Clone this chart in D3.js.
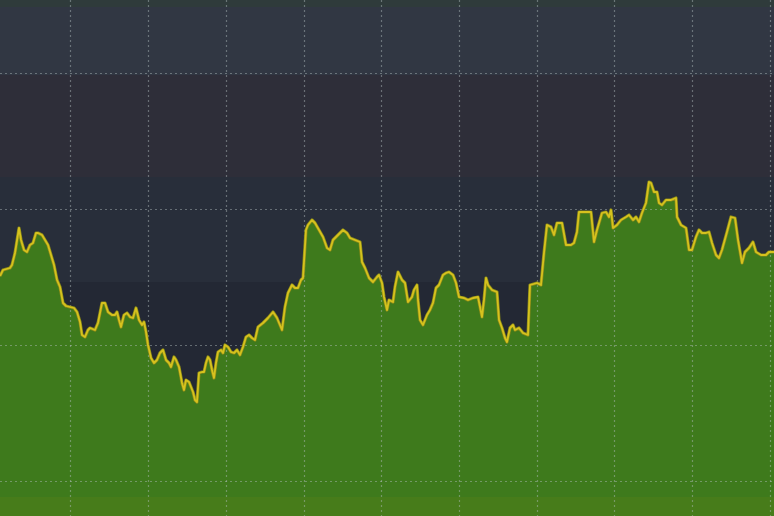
<!DOCTYPE html>
<html>
<head>
<meta charset="utf-8">
<script src="https://cdn.jsdelivr.net/npm/d3@7"></script>
<style>
  html, body { margin: 0; padding: 0; background: #2b2f3a; }
  svg { display: block; }
</style>
</head>
<body>
<svg id="chart" width="774" height="516"></svg>
<script>
// ---- data ----
const days = [
  0,3,10,12,15,19,21,24,27,30,
  33,36,38,42,45,48,51,54,57,60,
  63,66,70,74,77,80,82,85,88,90,
  95,98,102,105,108,112,115,117,119,121,
  124,127,130,133,136,139,142,144,146,148,
  151,154,157,160,163,166,169,171,174,176,
  179,182,184,186,189,191,193,195,197,199,
  202,204,206,208,210,212,214,216,218,221,
  223,225,228,231,234,237,240,243,246,249,
  252,255,258,263,268,273,277,282,285,288,
  292,295,298,301,303,306,308,312,315,319,
  323,327,330,333,338,343,347,350,355,360,
  362,365,369,373,377,379,382,384,387,389,
  393,395,398,402,405,408,412,414,417,418,
  420,423,427,430,433,436,439,443,446,449,
  453,456,459,464,468,473,478,482,484,486,
  488,492,497,499,502,505,507,510,513,515,
  519,523,528,530,537,541,544,547,551,554,
  557,562,566,571,574,577,579,591,594,597,
  602,606,609,611,613,617,621,626,629,633,
  636,639,642,646,649,651,654,657,659,662,
  666,671,676,677,681,686,689,692,696,699,
  702,706,709,712,716,719,722,727,731,735,
  738,742,745,749,753,756,761,766,769,774
];
const closes = [
  240,246,248,251,263,288,276,266,264,271,
  273,283,283,281,276,271,261,251,236,229,
  213,210,209,208,204,194,181,179,186,188,
  186,193,213,213,204,201,201,204,196,189,
  201,203,199,198,208,196,191,194,184,171,
  158,153,156,163,166,156,153,149,159,156,
  149,133,126,136,134,129,124,116,114,143,
  144,144,153,159,156,146,138,153,164,166,
  163,171,169,164,163,166,161,169,179,181,
  178,176,189,193,198,204,198,186,209,223,
  231,228,228,236,238,286,291,296,293,286,
  279,268,266,276,281,286,283,278,276,274,
  254,248,238,234,239,241,233,219,206,216,
  214,229,244,236,233,214,219,226,231,216,
  196,191,201,206,213,228,231,241,243,244,
  241,233,219,218,216,218,219,199,216,238,
  231,226,224,196,188,178,174,188,191,186,
  188,183,181,231,233,231,263,291,289,281,
  293,293,271,271,273,284,304,304,274,286,
  303,304,299,306,288,291,296,299,301,296,
  299,294,303,313,334,333,324,324,313,311,
  316,316,318,299,291,288,266,266,279,286,
  283,283,284,273,261,258,266,284,299,298,
  276,253,264,268,274,264,261,261,264,264
];
const xTicks = [70,148,226,304,381,459,537,614,692,770];
const yTicks = [35,171,307,443];
// background bands (value ranges)
const bandLow  = [509, 441, 339, 234, 0];
const bandHigh = [516, 509, 441, 339, 234];
const bandColors = ["#2f3b3b", "#313743", "#2e2e39", "#282e3a", "#232834"];

// ---- drawing ----
const W = 774, H = 516;
const svg = d3.select("#chart");
const x = d3.scaleLinear().domain([0, 774]).range([0, W]);
const y = d3.scaleLinear().domain([0, 516]).range([H, 0]);

// bands
svg.append("g").selectAll("rect")
  .data(bandLow.map((lo, i) => ({lo, hi: bandHigh[i], c: bandColors[i]})))
  .join("rect")
  .attr("x", 0).attr("width", W)
  .attr("y", d => y(d.hi)).attr("height", d => y(d.lo) - y(d.hi))
  .attr("fill", d => d.c);

const data = days.map((d, i) => ({d, v: closes[i]}));

// area
svg.append("path")
  .datum(data)
  .attr("fill", "#3e7a1c")
  .attr("d", d3.area().x(p => x(p.d)).y0(y(0)).y1(p => y(p.v)));

// bottom tint band
svg.append("rect")
  .attr("x", 0).attr("width", W)
  .attr("y", y(19)).attr("height", y(0) - y(19))
  .attr("fill", "#8a8a10").attr("opacity", 0.12);

// grid
const grid = svg.append("g")
  .attr("stroke", "#b4bec2").attr("stroke-opacity", 0.45)
  .attr("stroke-width", 1.2).attr("stroke-dasharray", "2,3");
grid.selectAll("line.v").data(xTicks).join("line").attr("class", "v")
  .attr("x1", d => x(d) + 0.5).attr("x2", d => x(d) + 0.5)
  .attr("y1", 0).attr("y2", H);
grid.selectAll("line.h").data(yTicks).join("line").attr("class", "h")
  .attr("y1", d => y(d) + 0.5).attr("y2", d => y(d) + 0.5)
  .attr("x1", 0).attr("x2", W);

// line
const line = d3.line().x(p => x(p.d)).y(p => y(p.v));
svg.append("path").datum(data)
  .attr("fill", "none").attr("stroke", "#8a8a18").attr("stroke-width", 3.2)
  .attr("stroke-linejoin", "round").attr("d", line);
svg.append("path").datum(data)
  .attr("fill", "none").attr("stroke", "#d6c21e").attr("stroke-width", 1.8)
  .attr("stroke-linejoin", "round").attr("d", line);
</script>
</body>
</html>
